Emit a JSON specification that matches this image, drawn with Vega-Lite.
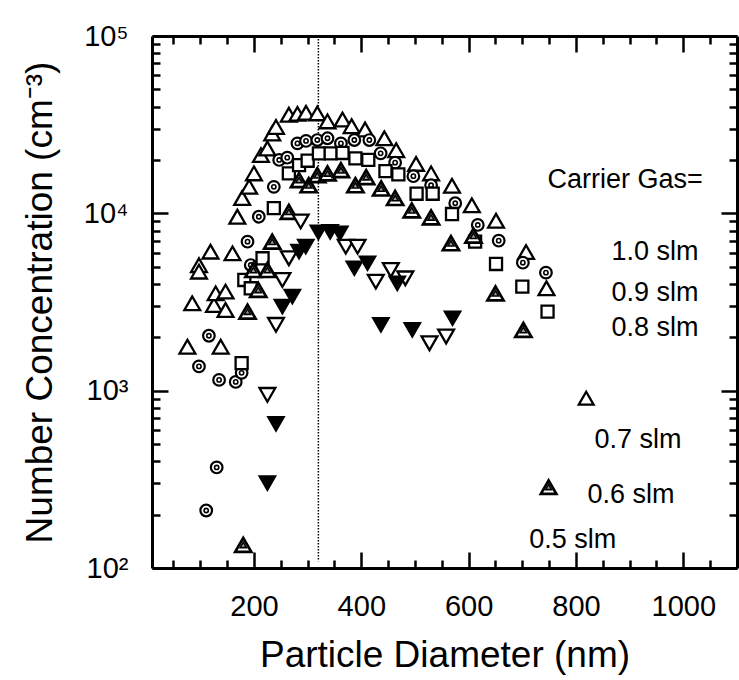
{
  "$schema": "https://vega.github.io/schema/vega-lite/v6.json",
  "autosize": "none",
  "width": 585,
  "height": 532,
  "padding": {"left": 152, "top": 36, "right": 2, "bottom": 112},
  "background": "white",
  "config": {"view": {"stroke": null}},
  "datasets": {
    "points": [
      {"series": "1.0 slm", "d": 111, "n": 211}, {"series": "1.0 slm", "d": 130.5, "n": 369}, {"series": "1.0 slm", "d": 97.5, "n": 1370},
      {"series": "1.0 slm", "d": 116, "n": 2040}, {"series": "1.0 slm", "d": 135, "n": 1150}, {"series": "1.0 slm", "d": 166, "n": 1120},
      {"series": "1.0 slm", "d": 177, "n": 1260}, {"series": "1.0 slm", "d": 188, "n": 6920}, {"series": "1.0 slm", "d": 194, "n": 5110},
      {"series": "1.0 slm", "d": 209, "n": 9570}, {"series": "1.0 slm", "d": 237, "n": 14100}, {"series": "1.0 slm", "d": 247, "n": 20000},
      {"series": "1.0 slm", "d": 262, "n": 20600}, {"series": "1.0 slm", "d": 281, "n": 24800}, {"series": "1.0 slm", "d": 297, "n": 25600},
      {"series": "1.0 slm", "d": 318, "n": 25900}, {"series": "1.0 slm", "d": 337, "n": 26500}, {"series": "1.0 slm", "d": 362, "n": 24800},
      {"series": "1.0 slm", "d": 387, "n": 25900}, {"series": "1.0 slm", "d": 415, "n": 25900}, {"series": "1.0 slm", "d": 436, "n": 21800},
      {"series": "1.0 slm", "d": 463, "n": 19300}, {"series": "1.0 slm", "d": 497, "n": 16200}, {"series": "1.0 slm", "d": 530, "n": 14400},
      {"series": "1.0 slm", "d": 575, "n": 11400}, {"series": "1.0 slm", "d": 617, "n": 8600}, {"series": "1.0 slm", "d": 656, "n": 7010},
      {"series": "1.0 slm", "d": 701, "n": 5270}, {"series": "1.0 slm", "d": 744, "n": 4630},

      {"series": "0.9 slm", "d": 76, "n": 1770}, {"series": "0.9 slm", "d": 85, "n": 3110}, {"series": "0.9 slm", "d": 97.5, "n": 5100},
      {"series": "0.9 slm", "d": 97.5, "n": 4690}, {"series": "0.9 slm", "d": 119, "n": 6080}, {"series": "0.9 slm", "d": 125.5, "n": 3040},
      {"series": "0.9 slm", "d": 128.6, "n": 3540}, {"series": "0.9 slm", "d": 138, "n": 1770}, {"series": "0.9 slm", "d": 147, "n": 3620},
      {"series": "0.9 slm", "d": 147, "n": 2850}, {"series": "0.9 slm", "d": 160, "n": 5950},
      {"series": "0.9 slm", "d": 169, "n": 9570}, {"series": "0.9 slm", "d": 178, "n": 12200}, {"series": "0.9 slm", "d": 191, "n": 14100},
      {"series": "0.9 slm", "d": 200, "n": 16800}, {"series": "0.9 slm", "d": 213, "n": 21300}, {"series": "0.9 slm", "d": 225, "n": 23200},
      {"series": "0.9 slm", "d": 234, "n": 28200}, {"series": "0.9 slm", "d": 241, "n": 30700}, {"series": "0.9 slm", "d": 265, "n": 36000},
      {"series": "0.9 slm", "d": 281, "n": 36400}, {"series": "0.9 slm", "d": 297, "n": 36900}, {"series": "0.9 slm", "d": 318, "n": 36600},
      {"series": "0.9 slm", "d": 337, "n": 33000}, {"series": "0.9 slm", "d": 365, "n": 33800}, {"series": "0.9 slm", "d": 382, "n": 31000},
      {"series": "0.9 slm", "d": 407, "n": 29700}, {"series": "0.9 slm", "d": 443, "n": 26500}, {"series": "0.9 slm", "d": 465, "n": 22700},
      {"series": "0.9 slm", "d": 502, "n": 19000}, {"series": "0.9 slm", "d": 530, "n": 16800}, {"series": "0.9 slm", "d": 569, "n": 14300},
      {"series": "0.9 slm", "d": 606, "n": 11100}, {"series": "0.9 slm", "d": 651, "n": 9080}, {"series": "0.9 slm", "d": 707, "n": 6050},
      {"series": "0.9 slm", "d": 745, "n": 3780},

      {"series": "0.8 slm", "d": 177, "n": 1430}, {"series": "0.8 slm", "d": 182, "n": 4210}, {"series": "0.8 slm", "d": 194, "n": 3780},
      {"series": "0.8 slm", "d": 216, "n": 5580}, {"series": "0.8 slm", "d": 237, "n": 10700}, {"series": "0.8 slm", "d": 265, "n": 16800},
      {"series": "0.8 slm", "d": 284, "n": 18700}, {"series": "0.8 slm", "d": 300, "n": 19800}, {"series": "0.8 slm", "d": 321, "n": 21800},
      {"series": "0.8 slm", "d": 343, "n": 21800}, {"series": "0.8 slm", "d": 365, "n": 21900}, {"series": "0.8 slm", "d": 389, "n": 20400},
      {"series": "0.8 slm", "d": 413, "n": 20000}, {"series": "0.8 slm", "d": 445, "n": 17300}, {"series": "0.8 slm", "d": 469, "n": 16600},
      {"series": "0.8 slm", "d": 503, "n": 12900}, {"series": "0.8 slm", "d": 533, "n": 12900}, {"series": "0.8 slm", "d": 569, "n": 9910},
      {"series": "0.8 slm", "d": 612, "n": 6920}, {"series": "0.8 slm", "d": 651, "n": 5180}, {"series": "0.8 slm", "d": 700, "n": 3860},
      {"series": "0.8 slm", "d": 747, "n": 2790},

      {"series": "0.7 slm", "d": 225, "n": 947}, {"series": "0.7 slm", "d": 241, "n": 2350}, {"series": "0.7 slm", "d": 253, "n": 4210},
      {"series": "0.7 slm", "d": 265, "n": 5580}, {"series": "0.7 slm", "d": 287, "n": 9000}, {"series": "0.7 slm", "d": 371, "n": 6490},
      {"series": "0.7 slm", "d": 393, "n": 6490}, {"series": "0.7 slm", "d": 427, "n": 4120}, {"series": "0.7 slm", "d": 455, "n": 4790},
      {"series": "0.7 slm", "d": 482, "n": 4300}, {"series": "0.7 slm", "d": 527, "n": 1850}, {"series": "0.7 slm", "d": 558, "n": 2020},

      {"series": "0.6 slm", "d": 180, "n": 135}, {"series": "0.6 slm", "d": 188, "n": 2790}, {"series": "0.6 slm", "d": 199, "n": 4790},
      {"series": "0.6 slm", "d": 208, "n": 3700}, {"series": "0.6 slm", "d": 225, "n": 4790}, {"series": "0.6 slm", "d": 234, "n": 6920},
      {"series": "0.6 slm", "d": 265, "n": 10200}, {"series": "0.6 slm", "d": 284, "n": 15400}, {"series": "0.6 slm", "d": 302, "n": 14400},
      {"series": "0.6 slm", "d": 318, "n": 16400}, {"series": "0.6 slm", "d": 337, "n": 16800}, {"series": "0.6 slm", "d": 362, "n": 17500},
      {"series": "0.6 slm", "d": 389, "n": 14400}, {"series": "0.6 slm", "d": 409, "n": 16000}, {"series": "0.6 slm", "d": 437, "n": 13800},
      {"series": "0.6 slm", "d": 463, "n": 12200}, {"series": "0.6 slm", "d": 494, "n": 10400}, {"series": "0.6 slm", "d": 530, "n": 9490},
      {"series": "0.6 slm", "d": 567, "n": 6780}, {"series": "0.6 slm", "d": 609, "n": 7480}, {"series": "0.6 slm", "d": 650, "n": 3540},
      {"series": "0.6 slm", "d": 702, "n": 2200},

      {"series": "0.5 slm", "d": 225, "n": 301}, {"series": "0.5 slm", "d": 241, "n": 650}, {"series": "0.5 slm", "d": 253, "n": 2980},
      {"series": "0.5 slm", "d": 271.5, "n": 3390}, {"series": "0.5 slm", "d": 284, "n": 6080}, {"series": "0.5 slm", "d": 296.5, "n": 6490},
      {"series": "0.5 slm", "d": 320, "n": 7800}, {"series": "0.5 slm", "d": 342, "n": 7870}, {"series": "0.5 slm", "d": 360, "n": 7700},
      {"series": "0.5 slm", "d": 387, "n": 4900}, {"series": "0.5 slm", "d": 411.5, "n": 5230}, {"series": "0.5 slm", "d": 436.5, "n": 2350},
      {"series": "0.5 slm", "d": 467, "n": 4030}, {"series": "0.5 slm", "d": 495, "n": 2200}, {"series": "0.5 slm", "d": 570, "n": 2560}
    ],
    "guide": [{"x": 320, "y": 100000, "y2": 109}],
    "keys": [
      {"series": "0.7 slm", "d": 819, "n": 907},
      {"series": "0.6 slm", "d": 749, "n": 286}
    ],
    "notes": [
      {"text": "Carrier Gas=", "d": 747, "n": 15400},
      {"text": "1.0 slm", "d": 866, "n": 6050},
      {"text": "0.9 slm", "d": 866, "n": 3560},
      {"text": "0.8 slm", "d": 866, "n": 2260},
      {"text": "0.7 slm", "d": 834.5, "n": 528},
      {"text": "0.6 slm", "d": 821.5, "n": 259},
      {"text": "0.5 slm", "d": 713, "n": 144}
    ]
  },
  "resolve": {"axis": {"x": "independent", "y": "independent"}},
  "layer": [
    {
      "data": {"name": "guide"},
      "mark": {"type": "rule", "color": "black", "strokeWidth": 1.5, "strokeDash": [1.5, 1.5]},
      "encoding": {
        "x": {"field": "x", "type": "quantitative",
          "scale": {"domain": [10, 1100], "nice": false, "zero": false},
          "axis": {"orient": "bottom", "values": [200, 400, 600, 800, 1000], "format": "d", "grid": false,
            "tickSize": -16, "tickWidth": 2.5, "tickColor": "black", "domainColor": "black", "domainWidth": 3,
            "labelFont": "Liberation Sans, Arial, sans-serif", "labelFontSize": 29, "labelColor": "black",
            "labelPadding": 40, "labelFlush": false, "labelOverlap": false, "labelBound": false,
            "title": "Particle Diameter (nm)", "titleFont": "Liberation Sans, Arial, sans-serif",
            "titleFontSize": 37, "titleFontWeight": "normal", "titleColor": "black", "titlePadding": 16}},
        "y": {"field": "y", "type": "quantitative",
          "scale": {"type": "log", "domain": [100, 100000], "nice": false},
          "axis": {"orient": "left", "values": [100, 1000, 10000, 100000], "grid": false,
            "labelExpr": "datum.value == 100 ? '10²' : datum.value == 1000 ? '10³' : datum.value == 10000 ? '10⁴' : '10⁵'",
            "tickSize": -16, "tickWidth": 2.5, "tickColor": "black", "domainColor": "black", "domainWidth": 3,
            "labelFont": "Liberation Sans, Arial, sans-serif", "labelFontSize": 29, "labelColor": "black",
            "labelPadding": 40, "labelFlush": false, "labelOverlap": false, "labelBound": false,
            "title": "Number Concentration (cm⁻³)", "titleFont": "Liberation Sans, Arial, sans-serif",
            "titleFontSize": 37, "titleFontWeight": "normal", "titleColor": "black", "titlePadding": 24}},
        "y2": {"field": "y2"}
      }
    },
    {
      "data": {"name": "points"},
      "transform": [{"filter": "datum.series === '0.9 slm'"}],
      "mark": {"type": "point", "shape": "triangle-up", "filled": true, "fill": "white", "stroke": "black", "strokeWidth": 2.3, "size": 250, "opacity": 1},
      "encoding": {
        "x": {"field": "d", "type": "quantitative", "scale": {"domain": [10, 1100], "nice": false, "zero": false},
          "axis": {"orient": "bottom", "values": [50, 100, 150, 250, 300, 350, 450, 500, 550, 650, 700, 750, 850, 900, 950, 1050],
            "tickSize": -8, "tickWidth": 2.5, "tickColor": "black", "labels": false, "domain": false, "grid": false, "title": null}},
        "y": {"field": "n", "type": "quantitative", "scale": {"type": "log", "domain": [100, 100000], "nice": false},
          "axis": {"orient": "left", "values": [200, 300, 400, 500, 600, 700, 800, 900, 2000, 3000, 4000, 5000, 6000, 7000, 8000, 9000, 20000, 30000, 40000, 50000, 60000, 70000, 80000, 90000],
            "tickSize": -8, "tickWidth": 2.5, "tickColor": "black", "labels": false, "domain": false, "grid": false, "title": null}}
      }
    },
    {
      "data": {"name": "points"},
      "transform": [{"filter": "datum.series === '1.0 slm'"}],
      "mark": {"type": "point", "shape": "circle", "filled": true, "fill": "white", "stroke": "black", "strokeWidth": 2.2, "size": 135, "opacity": 1},
      "encoding": {
        "x": {"field": "d", "type": "quantitative", "scale": {"domain": [10, 1100], "nice": false, "zero": false},
          "axis": {"orient": "top", "values": [200, 400, 600, 800, 1000],
            "tickSize": -16, "tickWidth": 2.5, "tickColor": "black", "labels": false, "domainColor": "black", "domainWidth": 3, "grid": false, "title": null}},
        "y": {"field": "n", "type": "quantitative", "scale": {"type": "log", "domain": [100, 100000], "nice": false},
          "axis": {"orient": "right", "values": [100, 1000, 10000, 100000],
            "tickSize": -16, "tickWidth": 2.5, "tickColor": "black", "labels": false, "domainColor": "black", "domainWidth": 3, "grid": false, "title": null}}
      }
    },
    {
      "data": {"name": "points"},
      "transform": [{"filter": "datum.series === '1.0 slm'"}],
      "mark": {"type": "point", "shape": "circle", "filled": true, "fill": "white", "stroke": "black", "strokeWidth": 1.6, "size": 18, "opacity": 1},
      "encoding": {
        "x": {"field": "d", "type": "quantitative", "scale": {"domain": [10, 1100], "nice": false, "zero": false},
          "axis": {"orient": "top", "values": [50, 100, 150, 250, 300, 350, 450, 500, 550, 650, 700, 750, 850, 900, 950, 1050],
            "tickSize": -8, "tickWidth": 2.5, "tickColor": "black", "labels": false, "domain": false, "grid": false, "title": null}},
        "y": {"field": "n", "type": "quantitative", "scale": {"type": "log", "domain": [100, 100000], "nice": false},
          "axis": {"orient": "right", "values": [200, 300, 400, 500, 600, 700, 800, 900, 2000, 3000, 4000, 5000, 6000, 7000, 8000, 9000, 20000, 30000, 40000, 50000, 60000, 70000, 80000, 90000],
            "tickSize": -8, "tickWidth": 2.5, "tickColor": "black", "labels": false, "domain": false, "grid": false, "title": null}}
      }
    },
    {
      "data": {"name": "points"},
      "transform": [{"filter": "datum.series === '0.8 slm'"}],
      "mark": {"type": "point", "shape": "square", "filled": true, "fill": "white", "stroke": "black", "strokeWidth": 2.3, "size": 145, "opacity": 1},
      "encoding": {
        "x": {"field": "d", "type": "quantitative", "axis": null},
        "y": {"field": "n", "type": "quantitative", "axis": null}
      }
    },
    {
      "data": {"name": "points"},
      "transform": [{"filter": "datum.series === '0.6 slm'"}],
      "mark": {"type": "point", "shape": "triangle-up", "filled": true, "fill": "white", "stroke": "black", "strokeWidth": 2.7, "size": 260, "opacity": 1},
      "encoding": {
        "x": {"field": "d", "type": "quantitative", "axis": null},
        "y": {"field": "n", "type": "quantitative", "axis": null}
      }
    },
    {
      "data": {"name": "points"},
      "transform": [{"filter": "datum.series === '0.6 slm'"}],
      "mark": {"type": "point", "shape": "triangle-up", "filled": true, "fill": "#999999", "stroke": "black", "strokeWidth": 1.6, "size": 40, "opacity": 1},
      "encoding": {
        "x": {"field": "d", "type": "quantitative", "axis": null},
        "y": {"field": "n", "type": "quantitative", "axis": null}
      }
    },
    {
      "data": {"name": "points"},
      "transform": [{"filter": "datum.series === '0.7 slm'"}],
      "mark": {"type": "point", "shape": "triangle-down", "filled": true, "fill": "white", "stroke": "black", "strokeWidth": 2.3, "size": 250, "opacity": 1},
      "encoding": {
        "x": {"field": "d", "type": "quantitative", "axis": null},
        "y": {"field": "n", "type": "quantitative", "axis": null}
      }
    },
    {
      "data": {"name": "points"},
      "transform": [{"filter": "datum.series === '0.5 slm'"}],
      "mark": {"type": "point", "shape": "triangle-down", "filled": true, "fill": "black", "stroke": "black", "strokeWidth": 2, "size": 250, "opacity": 1},
      "encoding": {
        "x": {"field": "d", "type": "quantitative", "axis": null},
        "y": {"field": "n", "type": "quantitative", "axis": null}
      }
    },
    {
      "data": {"name": "keys"},
      "transform": [{"filter": "datum.series === '0.7 slm'"}],
      "mark": {"type": "point", "shape": "triangle-up", "filled": true, "fill": "white", "stroke": "black", "strokeWidth": 2.3, "size": 220, "opacity": 1},
      "encoding": {
        "x": {"field": "d", "type": "quantitative", "axis": null},
        "y": {"field": "n", "type": "quantitative", "axis": null}
      }
    },
    {
      "data": {"name": "keys"},
      "transform": [{"filter": "datum.series === '0.6 slm'"}],
      "mark": {"type": "point", "shape": "triangle-up", "filled": true, "fill": "white", "stroke": "black", "strokeWidth": 2.7, "size": 240, "opacity": 1},
      "encoding": {
        "x": {"field": "d", "type": "quantitative", "axis": null},
        "y": {"field": "n", "type": "quantitative", "axis": null}
      }
    },
    {
      "data": {"name": "keys"},
      "transform": [{"filter": "datum.series === '0.6 slm'"}],
      "mark": {"type": "point", "shape": "triangle-up", "filled": true, "fill": "#999999", "stroke": "black", "strokeWidth": 1.6, "size": 36, "opacity": 1},
      "encoding": {
        "x": {"field": "d", "type": "quantitative", "axis": null},
        "y": {"field": "n", "type": "quantitative", "axis": null}
      }
    },
    {
      "data": {"name": "notes"},
      "mark": {"type": "text", "align": "left", "baseline": "middle", "color": "black",
        "font": "Liberation Sans, Arial, sans-serif", "fontSize": 27},
      "encoding": {
        "x": {"field": "d", "type": "quantitative", "axis": null},
        "y": {"field": "n", "type": "quantitative", "axis": null},
        "text": {"field": "text"}
      }
    }
  ]
}
